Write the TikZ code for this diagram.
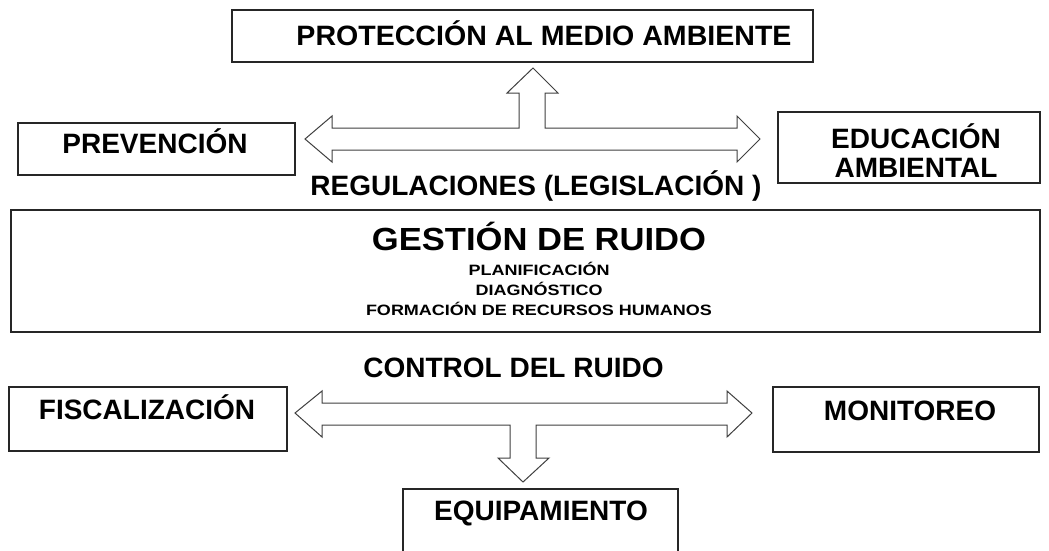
\documentclass[tikz,border=0pt]{standalone}
\usepackage{fontspec}
\setmainfont{Liberation Sans}
\begin{document}
\begin{tikzpicture}[x=1pt,y=-1pt,
  box/.style={draw=black!85,line width=1.3pt,inner sep=0pt},
  lbl/.style={font=\fontsize{28}{29}\selectfont\bfseries,inner sep=0pt,anchor=base},
  sub/.style={font=\fontsize{15}{15}\selectfont\bfseries,inner sep=0pt,anchor=base},
  blockarrow/.style={draw=black!75,line width=1pt,fill=white,line join=miter}]
\useasboundingbox[fill=white] (0,0) rectangle (1049,550);
% boxes
\node[box,minimum width=581,minimum height=52] (prot) at (522.5,36) {};
\node[box,minimum width=277,minimum height=52] (prev) at (156.5,149) {};
\node[box,minimum width=262,minimum height=71] (edu) at (909,147.5) {};
\node[box,minimum width=1029,minimum height=122] (gest) at (525.5,271) {};
\node[box,minimum width=278,minimum height=64] (fisc) at (148,419) {};
\node[box,minimum width=266,minimum height=65] (moni) at (906,419.5) {};
\node[box,minimum width=275,minimum height=70] (equi) at (540.5,524) {};
% labels
\node[lbl] (tprot) at (544,45) {\scalebox{1.02}[1]{PROTECCIÓN AL MEDIO AMBIENTE}};
\node[lbl] (tprev) at (155,153) {PREVENCIÓN};
\node[lbl] (tedu1) at (916,148) {EDUCACIÓN};
\node[lbl] (tedu2) at (916,177) {AMBIENTAL};
\node[lbl] (treg) at (536,195) {REGULACIONES (LEGISLACIÓN )};
\node[inner sep=0pt,anchor=base] (tgest) at (539,250) {\scalebox{1.08}[1]{\fontsize{32}{34}\selectfont\bfseries GESTIÓN DE RUIDO}};
\node[sub] (tplan) at (539,275) {\scalebox{1.2}[1]{PLANIFICACIÓN}};
\node[sub] (tdiag) at (539,295) {\scalebox{1.2}[1]{DIAGNÓSTICO}};
\node[sub] (tform) at (539,315) {\scalebox{1.2}[1]{FORMACIÓN DE RECURSOS HUMANOS}};
\node[lbl] (tctrl) at (513.5,377) {CONTROL DEL RUIDO};
\node[lbl] (tfisc) at (147,419) {FISCALIZACIÓN};
\node[lbl] (tmoni) at (910,420) {MONITOREO};
\node[lbl] (tequi) at (541,520) {EQUIPAMIENTO};
% top block arrow
\draw[blockarrow] (305,139) -- (332,116) -- (332,128) -- (519,128) -- (519,93) -- (507,93)
  -- (533,68) -- (558,93) -- (545,93) -- (545,128) -- (737,128) -- (737,116) -- (760,139)
  -- (737,162) -- (737,150) -- (332,150) -- (332,162) -- cycle;
% bottom block arrow
\draw[blockarrow] (295,413) -- (322,391) -- (322,403) -- (727,403) -- (727,391) -- (752,413)
  -- (727,437) -- (727,425) -- (536,425) -- (536,458) -- (549,458) -- (523,482)
  -- (498,458) -- (510,458) -- (510,425) -- (322,425) -- (322,437) -- cycle;
\end{tikzpicture}
\end{document}
